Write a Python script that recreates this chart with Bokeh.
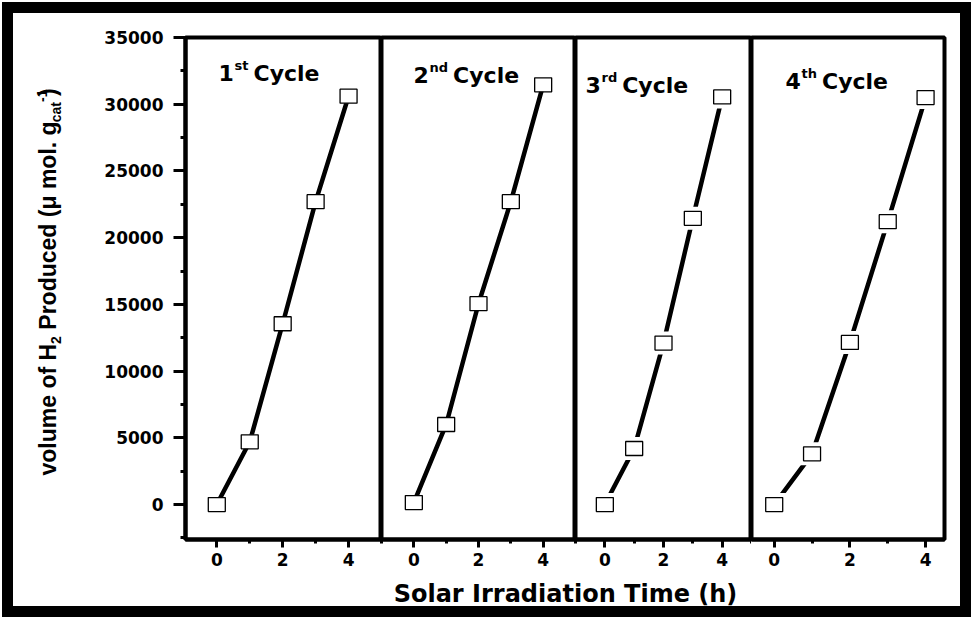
import math
from bokeh.plotting import figure
from bokeh.models import Range1d, FixedTicker, SingleIntervalTicker, Label, Column, Row
from bokeh.embed import file_html
from bokeh.resources import INLINE

# ---------------- data ----------------
times = [0, 1, 2, 3, 4]
cycle_1 = [0, 4700, 13550, 22700, 30600]
cycle_2 = [150, 6000, 15050, 22700, 31450]
cycle_3 = [0, 4200, 12100, 21450, 30550]
cycle_4 = [0, 3800, 12150, 21200, 30500]
cycles = [cycle_1, cycle_2, cycle_3, cycle_4]
cycle_numbers = ["1", "2", "3", "4"]
cycle_suffixes = ["st", "nd", "rd", "th"]
cycle_word = "Cycle"
x_major_ticks = [0, 2, 4]
x_minor_ticks = [-1, 1, 3, 5]
y_tick_step = 5000
x_label = "Solar Irradiation Time (h)"
y_label_parts = ["volume of H", "2", "Produced (\u03bc mol. g", "cat", "-1", ")"]

# ---------------- layout / style ----------------
TOTAL_W, TOTAL_H = 973, 619
YLAB_W = 80
x_ranges = [(-0.95, 5.0), (-1.0, 5.0), (-1.0, 5.0), (-0.6, 4.5)]
frame_widths = [196, 194, 176, 193]
TOP, FRAME_H, BOTTOM = 37, 502, 39
ROW_H = TOP + FRAME_H + BOTTOM
LEFT = 185 - YLAB_W
RIGHT = TOTAL_W - YLAB_W - LEFT - sum(frame_widths)
XLAB_H = TOTAL_H - ROW_H
BASE_SHIFT = 0.37          # compensation of the text baseline drawn by the svg backend
title_dx = [33, 32, 10, 34]
title_dy = [44, 46, 56, 52]
sup_width = {"st": 14, "nd": 18.6, "rd": 15.7, "th": 15.5}
marker_gap = [False, False, True, True]
TICK_FONT = "DejaVu Sans"
TICK_SIZE = "17px"
TITLE_FONT = "DejaVu Sans"
YLAB_FONT = "Liberation Sans"

y_range = Range1d(-2620, 35000)


def hlabel(p, x, y, text, size, font=TITLE_FONT, align="left"):
    p.add_layout(Label(x=x, y=y + BASE_SHIFT * size, x_units="screen", y_units="screen",
                       text=text, text_font=font, text_font_style="bold",
                       text_font_size=f"{size}px", text_color="black",
                       text_align=align, text_baseline="alphabetic"))


figs = []
for i in range(4):
    left = LEFT if i == 0 else 0
    right = RIGHT if i == 3 else 0
    p = figure(width=left + frame_widths[i] + right, height=ROW_H,
               x_range=Range1d(*x_ranges[i]), y_range=y_range,
               output_backend="svg", toolbar_location=None,
               y_axis_location="left" if i == 0 else None,
               min_border=0, min_border_left=left, min_border_right=right,
               min_border_top=TOP, min_border_bottom=BOTTOM,
               border_fill_color=None, background_fill_color="white",
               outline_line_color="black", outline_line_width=4)
    p.grid.visible = False

    xa = p.xaxis[0]
    xa.ticker = FixedTicker(ticks=x_major_ticks, minor_ticks=x_minor_ticks)
    xa.axis_line_width = 4
    xa.axis_line_color = "black"
    xa.major_tick_in = 0
    xa.major_tick_out = 8
    xa.major_tick_line_width = 3
    xa.minor_tick_in = 0
    xa.minor_tick_out = 4
    xa.minor_tick_line_width = 3
    xa.major_label_text_font = TICK_FONT
    xa.major_label_text_font_style = "bold"
    xa.major_label_text_font_size = TICK_SIZE
    xa.major_label_text_color = "black"
    xa.major_label_standoff = 5

    if i == 0:
        ya = p.yaxis[0]
        ya.ticker = SingleIntervalTicker(interval=y_tick_step, num_minor_ticks=2)
        ya.axis_line_width = 4
        ya.axis_line_color = "black"
        ya.major_tick_in = 0
        ya.major_tick_out = 12
        ya.major_tick_line_width = 3
        ya.minor_tick_in = 0
        ya.minor_tick_out = 5
        ya.minor_tick_line_width = 3
        ya.major_label_text_font = TICK_FONT
        ya.major_label_text_font_style = "bold"
        ya.major_label_text_font_size = TICK_SIZE
        ya.major_label_text_color = "black"
        ya.major_label_standoff = 10

    p.line(times, cycles[i], line_width=4.5, line_color="black")
    if marker_gap[i]:
        p.rect(times, cycles[i], width=27, height=23, width_units="screen",
               height_units="screen", fill_color="white", line_color=None)
    p.rect(times, cycles[i], width=17, height=14, width_units="screen",
           height_units="screen", fill_color="white", line_color="black", line_width=1.3)

    # panel title: number, superscript suffix, word
    base_y = FRAME_H - title_dy[i]
    hlabel(p, title_dx[i], base_y, cycle_numbers[i], 22)
    hlabel(p, title_dx[i] + 16, base_y + 11, cycle_suffixes[i], 13)
    hlabel(p, title_dx[i] + 16 + sup_width[cycle_suffixes[i]] + 5, base_y, cycle_word, 22)
    figs.append(p)

# y axis label figure: pieces of rotated text (same frame as the panels)
yl = figure(width=YLAB_W, height=ROW_H, x_range=Range1d(0, 1), y_range=Range1d(0, 1),
            output_backend="svg", toolbar_location=None,
            x_axis_location=None, y_axis_location=None, min_border=0,
            min_border_top=TOP, min_border_bottom=BOTTOM,
            border_fill_color=None, background_fill_color=None, outline_line_color=None)
yl.grid.visible = False
base_x = 56
starts = [64, 195.6, 209.8, 417.3, 437.5, 443.5]
offs = [0, 5, 0, 5, -9, 0]
sizes = [23, 14, 23, 14, 14, 23]
for txt, sy, off, fs in zip(y_label_parts, starts, offs, sizes):
    yl.add_layout(Label(x=base_x + off - BASE_SHIFT * fs, y=sy, x_units="screen", y_units="screen",
                        angle=math.pi / 2, text=txt, text_font=YLAB_FONT, text_font_style="bold",
                        text_font_size=f"{fs}px", text_color="black",
                        text_align="left", text_baseline="alphabetic"))

# x axis label figure
xl = figure(width=TOTAL_W, height=XLAB_H, x_range=Range1d(0, 1), y_range=Range1d(0, 1),
            output_backend="svg", toolbar_location=None,
            x_axis_location=None, y_axis_location=None, min_border=0,
            border_fill_color=None, background_fill_color=None, outline_line_color=None)
xl.grid.visible = False
hlabel(xl, 565, 17, x_label, 24, align="center")

layout = Column(Row(yl, *figs, spacing=0), xl, spacing=0,
                styles={"outline": "11px solid black", "outline-offset": "-13px"})

open("out.html", "w").write(file_html(layout, INLINE))
